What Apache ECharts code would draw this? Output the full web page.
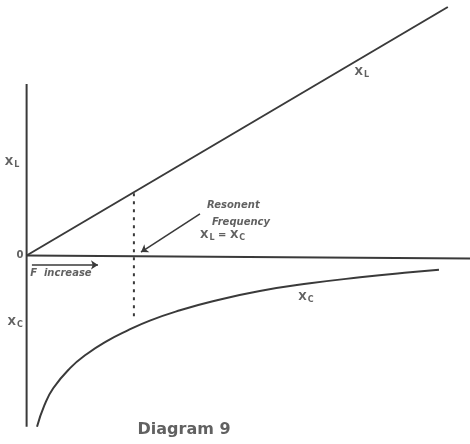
<!DOCTYPE html>
<html>
<head>
<meta charset="utf-8">
<script src="https://cdn.jsdelivr.net/npm/echarts@6/dist/echarts.min.js"></script>
<style>
  html, body { margin: 0; padding: 0; background: #fff; }
  #chart { width: 470px; height: 444px; }
</style>
</head>
<body>
<div id="chart"></div>
<script>
// frequency runs left to right, reactance up (X_L) and down (X_C)
var axisV = [[0, -40], [0, 40]]
var axisH = [[0, 0], [100, -0.7]]
var xl = [[0, 0], [95, 58]]
var xc = [[2.35, -40], [4, -35], [6, -31], [9.8, -26.3], [13.6, -23], [18.1, -20],
          [22.6, -17.6], [27.8, -15.2], [34.6, -12.8], [42, -10.7], [52.6, -8.3],
          [63.9, -6.5], [75.2, -5.1], [86.5, -3.9], [93, -3.3]]
var resonance = [[24.2, 14.5], [24.2, -14.6]]
var arrows = [
  [[1.2, -2.2], [16.1, -2.2]],
  [[39.1, 9.7], [25.8, 0.8]]
]

// annotation texts and where they sit
var labelText = ['{x|X}{s|L}', '{o|0}', '{x|X}{s|C}', '{t|F  increase}',
                 '{t|Resonent}', '{t|Frequency}', '{x|X}{s|L}{t| = }{x|X}{s|C}',
                 '{x|X}{s|L}', '{x|X}{s|C}', '{d|Diagram 9}']
var labelPos = [[-3.3, 21.8], [-1.5, 0.1], [-2.6, -15.5], [0.8, -4.1],
                [40.7, 11.6], [41.8, 7.8], [39.1, 4.8],
                [75.6, 42.8], [63, -9.7], [35.5, -40.7]]
var labelAlign = ['center', 'center', 'center', 'left',
                  'left', 'left', 'left', 'center', 'center', 'center']

var ink = '#3a3a3a'

function plain(name, data, extra) {
  return Object.assign({
    name: name,
    type: 'line',
    data: data,
    showSymbol: false,
    symbol: 'none',
    silent: true,
    lineStyle: { color: ink, width: 2 }
  }, extra || {})
}

var richStyles = {
  x: { fontFamily: 'DejaVu Sans', fontWeight: 'bold', fontSize: 11, color: ink },
  s: { fontFamily: 'DejaVu Sans', fontWeight: 'bold', fontSize: 8, color: ink, verticalAlign: 'bottom', padding: [6, 0, 0, 1] },
  o: { fontFamily: 'DejaVu Sans', fontWeight: 'bold', fontSize: 10, color: ink },
  t: { fontFamily: 'DejaVu Sans', fontWeight: 'bold', fontStyle: 'italic', fontSize: 10, color: ink },
  d: { fontFamily: 'DejaVu Sans', fontWeight: 'bold', fontSize: 16, color: ink }
}

var option = {
  backgroundColor: '#ffffff',
  animation: false,
  grid: { left: 0, right: 0, top: 7, bottom: 0 },
  xAxis: {
    type: 'value', min: -6, max: 100,
    axisLine: { show: false }, axisTick: { show: false },
    axisLabel: { show: false }, splitLine: { show: false }
  },
  yAxis: {
    type: 'value', min: -44, max: 58,
    axisLine: { show: false }, axisTick: { show: false },
    axisLabel: { show: false }, splitLine: { show: false }
  },
  series: [
    plain('axisV', axisV),
    plain('axisH', axisH),
    plain('XL', xl),
    plain('XC', xc, { smooth: true }),
    plain('resonance', resonance, { lineStyle: { color: ink, width: 2, type: [3, 5] } }),
    {
      type: 'lines',
      coordinateSystem: 'cartesian2d',
      silent: true,
      symbol: ['none', 'arrow'],
      symbolSize: 7,
      lineStyle: { color: ink, width: 1.6, opacity: 1 },
      data: arrows.map(function (c) { return { coords: c } })
    },
    {
      type: 'scatter',
      silent: true,
      symbolSize: 0,
      data: labelPos.map(function (p, i) {
        return {
          value: p,
          label: {
            show: true,
            position: 'inside',
            align: labelAlign[i],
            formatter: labelText[i],
            rich: richStyles
          }
        }
      })
    }
  ]
}

echarts.init(document.getElementById('chart')).setOption(option)
</script>
</body>
</html>
